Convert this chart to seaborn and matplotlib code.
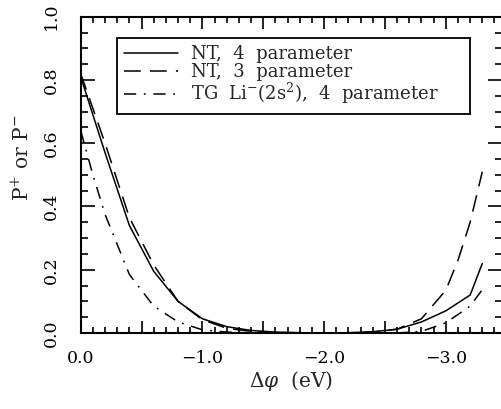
import numpy as np
import pandas as pd
import matplotlib
matplotlib.use("Agg")
import matplotlib.pyplot as plt
import seaborn as sns
from matplotlib.ticker import MultipleLocator, FuncFormatter

# ---------------- data ----------------
x_nt4 = [0.0, -0.2, -0.4, -0.6, -0.8, -1.0, -1.2, -1.4, -1.6, -1.8, -2.0,
         -2.2, -2.4, -2.6, -2.8, -3.0, -3.2, -3.3]
y_nt4 = [0.81, 0.57, 0.34, 0.195, 0.10, 0.045, 0.02, 0.008, 0.003, 0.001, 0.0,
         0.001, 0.004, 0.012, 0.035, 0.07, 0.12, 0.22]

x_nt3 = [0.0, -0.2, -0.4, -0.6, -0.8, -1.0, -1.2, -1.4, -1.6, -1.8, -2.0,
         -2.2, -2.4, -2.6, -2.8, -3.0, -3.1, -3.2, -3.3]
y_nt3 = [0.82, 0.60, 0.365, 0.215, 0.10, 0.042, 0.015, 0.005, 0.001, 0.0, 0.0,
         0.0, 0.003, 0.012, 0.045, 0.135, 0.23, 0.35, 0.51]

x_tg = [0.0, -0.1, -0.2, -0.3, -0.4, -0.5, -0.6, -0.8, -1.0, -1.2, -1.4,
        -2.0, -2.6, -2.8, -3.0, -3.2, -3.3]
y_tg = [0.64, 0.50, 0.375, 0.28, 0.185, 0.135, 0.085, 0.035, 0.01, 0.003, 0.0,
        0.0, 0.0, 0.005, 0.032, 0.085, 0.137]

labels = ["NT,  4  parameter", "NT,  3  parameter",
          r"TG  Li$^{-}$(2s$^{2}$),  4  parameter"]
x_ticks = [0.0, -1.0, -2.0, -3.0]
y_ticks = [0.0, 0.2, 0.4, 0.6, 0.8, 1.0]

# ---------------- style ----------------
sns.set_theme(style="ticks")
plt.rcParams['font.family'] = ['DejaVu Serif']
plt.rcParams['mathtext.fontset'] = 'dejavuserif'
plt.rcParams['axes.unicode_minus'] = True

fig = plt.figure(figsize=(5.02, 4.09), dpi=100)
ax = fig.add_axes([80.7 / 502, 1 - 333 / 409, (502 - 80.7) / 502, (333 - 16.7) / 409])

series = [(x_nt4, y_nt4, labels[0], None),
          (x_nt3, y_nt3, labels[1], (11, 6)),
          (x_tg, y_tg, labels[2], (8, 5, 1.2, 5))]
for xs, ys, lab, dash in series:
    df = pd.DataFrame({"x": xs, "y": ys})
    sns.lineplot(data=df, x="x", y="y", ax=ax, color="black", lw=1.1,
                 label=lab, sort=False, estimator=None)
    if dash is not None:
        ax.lines[-1].set_dashes(dash)

ax.set_xlim(0, -(502 - 80.7) / 121.7)
ax.set_ylim(0, 1.0)

ax.xaxis.set_major_locator(MultipleLocator(0.5))
ax.xaxis.set_minor_locator(MultipleLocator(0.1))
ax.yaxis.set_major_locator(MultipleLocator(0.2))
ax.yaxis.set_minor_locator(MultipleLocator(0.05))


def xfmt(v, pos):
    for t in x_ticks:
        if abs(v - t) < 1e-6:
            return "%.1f" % t if t == 0 else "\u2212%.1f" % abs(t)
    return ""


def yfmt(v, pos):
    for t in y_ticks:
        if abs(v - t) < 1e-6:
            return "%.1f" % t
    return ""


ax.xaxis.set_major_formatter(FuncFormatter(xfmt))
ax.yaxis.set_major_formatter(FuncFormatter(yfmt))

ax.tick_params(which="both", direction="in", top=True, right=True,
               width=1.2, colors="black")
ax.tick_params(axis="x", which="major", length=8.4, pad=12, labelsize=12.5)
ax.tick_params(axis="x", which="minor", length=4.5)
ax.tick_params(axis="y", which="major", length=9.8, pad=15, labelsize=12.5,
               labelrotation=90)
ax.tick_params(axis="y", which="minor", length=4.8)
for lbl in ax.get_yticklabels():
    lbl.set_va("center")

for s in ax.spines.values():
    s.set_linewidth(1.5)
    s.set_color("black")
ax.spines["right"].set_visible(False)

ax.set_xlabel(r"$\Delta\varphi$  (eV)", fontsize=14.5, labelpad=2)
ax.set_ylabel(r"P$^{+}$ or P$^{-}$", fontsize=14.5)
ax.yaxis.set_label_coords(-0.115, 0.553)

leg = ax.legend(loc="upper left", bbox_to_anchor=(0.086, 0.696, 0.838, 0.237),
                mode="expand", frameon=True, fancybox=False, edgecolor="black",
                framealpha=1, fontsize=13, handlelength=3.0, handletextpad=0.7,
                borderpad=0.4, labelspacing=0.0, borderaxespad=0)
leg.get_frame().set_linewidth(1.3)

fig.savefig("out.png", dpi=100)
